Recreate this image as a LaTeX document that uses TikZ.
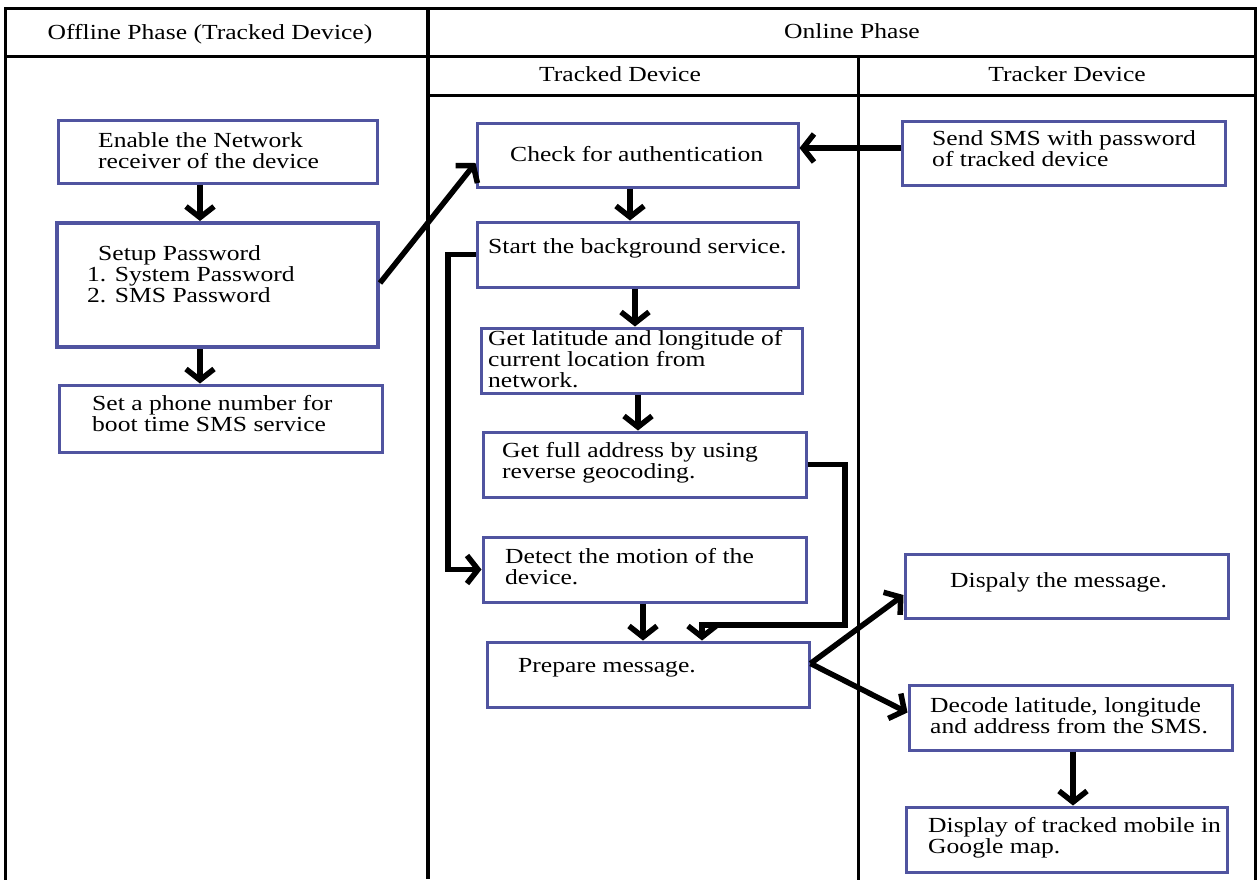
\documentclass[tikz,border=0pt]{standalone}
\usepackage{fontspec}
\setmainfont{Liberation Serif}[FakeStretch=1.19]
\usetikzlibrary{arrows.meta}
\definecolor{boxblue}{RGB}{80,84,160}
\begin{document}
\begin{tikzpicture}[x=1pt,y=-1pt,
  box/.style={draw=boxblue, line width=3pt, rectangle, inner sep=0pt},
  txt/.style={anchor=base west, inner sep=0pt, align=left, font=\fontsize{21.5}{21}\selectfont},
  hdr/.style={anchor=base, inner sep=0pt, font=\fontsize{21.5}{21}\selectfont},
  arr/.style={line width=5.5pt, -{Straight Barb[length=11pt,width=28pt]}},
  grid/.style={line width=3pt, line cap=rect}]
\useasboundingbox[fill=white] (0,0) rectangle (1259,879);

% table lines
\draw[grid] (5,879) -- (5,8) -- (1255,8) -- (1255,879);
\draw[grid] (5,56) -- (1255,56);
\draw[grid] (428,95) -- (1255,95);
\draw[line width=4.5pt] (428,8) -- (428,879);
\draw[grid] (858,56) -- (858,879);

% headers
\node[hdr] (hoff) at (210,39) {Offline Phase (Tracked Device)};
\node[hdr] (hon) at (852,38) {Online Phase};
\node[hdr] (htracked) at (620,81) {Tracked Device};
\node[hdr] (htracker) at (1067,81) {Tracker Device};

% offline boxes
\node[box, minimum width=319pt, minimum height=63pt] (enable) at (217.5,151.5) {};
\node[txt] (enablet) at (98,168) {Enable the Network\\receiver of the device};
\node[box, line width=4pt, minimum width=321pt, minimum height=124pt] (setup) at (217.5,285) {};
\node[txt] (setupt) at (87,302) {\hspace{11pt}Setup Password\\1. System Password\\2. SMS Password};
\node[box, minimum width=323pt, minimum height=67pt] (phone) at (220.5,418.5) {};
\node[txt] (phonet) at (92,431) {Set a phone number for\\boot time SMS service};

% tracked device boxes
\node[box, minimum width=321pt, minimum height=64pt] (check) at (637.5,155) {};
\node[txt] (checkt) at (510,161) {Check for authentication};
\node[box, minimum width=321pt, minimum height=65pt] (start) at (637.5,254.5) {};
\node[txt] (startt) at (488,253) {Start the background service.};
\node[box, minimum width=321pt, minimum height=65pt] (getlat) at (641.5,360.5) {};
\node[txt] (getlatt) at (488,387) {Get latitude and longitude of\\current location from\\network.};
\node[box, minimum width=323pt, minimum height=65pt] (full) at (644.5,464.5) {};
\node[txt] (fullt) at (502,478) {Get full address by using\\reverse geocoding.};
\node[box, minimum width=323pt, minimum height=65pt] (detect) at (644.5,569.5) {};
\node[txt] (detectt) at (505,584) {Detect the motion of the\\device.};
\node[box, minimum width=322pt, minimum height=65pt] (prepare) at (648,674.5) {};
\node[txt] (preparet) at (518,672) {Prepare message.};

% tracker device boxes
\node[box, minimum width=323pt, minimum height=64pt] (send) at (1063.5,153) {};
\node[txt] (sendt) at (932,166) {Send SMS with password\\of tracked device};
\node[box, minimum width=323pt, minimum height=64pt] (disp) at (1066.5,586) {};
\node[txt] (dispt) at (950,587) {Dispaly the message.};
\node[box, minimum width=323pt, minimum height=65pt] (decode) at (1070.5,717.5) {};
\node[txt] (decodet) at (930,733) {Decode latitude, longitude\\and address from the SMS.};
\node[box, minimum width=321pt, minimum height=65pt] (showmap) at (1066.5,839.5) {};
\node[txt] (showmapt) at (928,853) {Display of tracked mobile in\\Google map.};

% connectors
\coordinate (lx) at (448,0);
\coordinate (j1) at (845,625);
\draw[arr] ([xshift=-17.5pt]enable.south) -- ([xshift=-17.5pt]enable.south |- setup.north);
\draw[arr] ([xshift=-17.5pt]setup.south) -- ([xshift=-17.5pt]setup.south |- phone.north);
\draw[arr] ([yshift=2pt]setup.east) -- ([yshift=-8pt]check.west);
\draw[arr] ([yshift=5pt]send.west) -- ([yshift=5pt]send.west -| check.east);
\draw[arr] ([xshift=-7.5pt]check.south) -- ([xshift=-7.5pt]check.south |- start.north);
\draw[arr] ([xshift=-2.5pt]start.south) -- ([xshift=-2.5pt]start.south |- getlat.north);
\draw[arr] ([xshift=-3.5pt]getlat.south) -- ([xshift=-3.5pt]getlat.south |- full.north);
\draw[arr] ([xshift=-1.5pt]detect.south) -- ([xshift=-1.5pt]detect.south |- prepare.north);
\draw[arr] (full.east) -| (j1) -| ([xshift=54pt]prepare.north);
\draw[arr] (start.west) -- (start.west -| lx) |- (detect.west);
\draw[arr] ([yshift=11pt]prepare.east) -- ([yshift=-9pt]disp.west);
\draw[arr] ([yshift=11pt]prepare.east) -- ([yshift=5pt]decode.west);
\draw[arr] ([xshift=2.5pt]decode.south) -- ([xshift=2.5pt]decode.south |- showmap.north);
\end{tikzpicture}
\end{document}
